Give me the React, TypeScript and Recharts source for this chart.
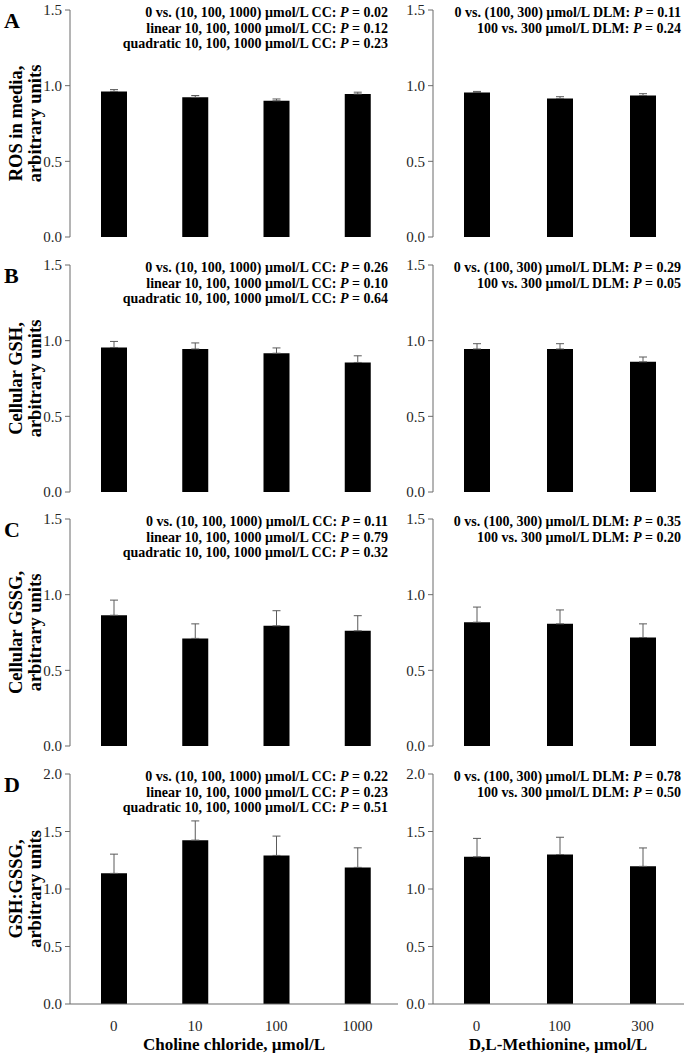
import React from 'react';
import { BarChart, Bar, XAxis, YAxis, ErrorBar } from 'recharts';

const FONT = '"Liberation Serif", "Times New Roman", Times, serif';
const AXIS = '#6b6b6b';
const TICK = '#262626';

// doses
const ccDoses = ['0', '10', '100', '1000'];
const dlmDoses = ['0', '100', '300'];

// A: ROS in media
const rosCC = [0.962, 0.923, 0.9, 0.945];
const rosCCErr = [0.012, 0.012, 0.012, 0.012];
const rosDLM = [0.955, 0.915, 0.935];
const rosDLMErr = [0.007, 0.012, 0.012];

// B: cellular GSH
const gshCC = [0.955, 0.945, 0.917, 0.856];
const gshCCErr = [0.04, 0.04, 0.035, 0.044];
const gshDLM = [0.945, 0.945, 0.86];
const gshDLMErr = [0.035, 0.035, 0.032];

// C: cellular GSSG
const gssgCC = [0.864, 0.711, 0.794, 0.761];
const gssgCCErr = [0.1, 0.096, 0.1, 0.1];
const gssgDLM = [0.818, 0.807, 0.717];
const gssgDLMErr = [0.1, 0.092, 0.09];

// D: GSH:GSSG
const ratioCC = [1.136, 1.425, 1.292, 1.188];
const ratioCCErr = [0.167, 0.167, 0.168, 0.17];
const ratioDLM = [1.28, 1.3, 1.197];
const ratioDLMErr = [0.16, 0.15, 0.16];

// P values
const ccTests = ['0 vs. (10, 100, 1000) µmol/L CC: ', 'linear 10, 100, 1000 µmol/L CC: ', 'quadratic 10, 100, 1000 µmol/L CC: '];
const dlmTests = ['0 vs. (100, 300) µmol/L DLM: ', '100 vs. 300 µmol/L DLM: '];
const rosCCP = ['0.02', '0.12', '0.23'];
const rosDLMP = ['0.11', '0.24'];
const gshCCP = ['0.26', '0.10', '0.64'];
const gshDLMP = ['0.29', '0.05'];
const gssgCCP = ['0.11', '0.79', '0.32'];
const gssgDLMP = ['0.35', '0.20'];
const ratioCCP = ['0.22', '0.23', '0.51'];
const ratioDLMP = ['0.78', '0.50'];

const ticks15 = [0, 0.5, 1, 1.5];
const ticks20 = [0, 0.5, 1, 1.5, 2];

const toRows = (cats: string[], vals: number[], errs: number[]) =>
  cats.map((c, i) => ({ dose: c, value: vals[i], err: [0, errs[i]] }));

const rows = [
  { letter: 'A', label: ['ROS in media,', 'arbitrary units'], top: 10, bottom: 237, ticks: ticks15,
    cc: toRows(ccDoses, rosCC, rosCCErr), dlm: toRows(dlmDoses, rosDLM, rosDLMErr), ccP: rosCCP, dlmP: rosDLMP },
  { letter: 'B', label: ['Cellular GSH,', 'arbitrary units'], top: 265, bottom: 492, ticks: ticks15,
    cc: toRows(ccDoses, gshCC, gshCCErr), dlm: toRows(dlmDoses, gshDLM, gshDLMErr), ccP: gshCCP, dlmP: gshDLMP },
  { letter: 'C', label: ['Cellular GSSG,', 'arbitrary units'], top: 519, bottom: 746, ticks: ticks15,
    cc: toRows(ccDoses, gssgCC, gssgCCErr), dlm: toRows(dlmDoses, gssgDLM, gssgDLMErr), ccP: gssgCCP, dlmP: gssgDLMP },
  { letter: 'D', label: ['GSH:GSSG,', 'arbitrary units'], top: 774, bottom: 1004, ticks: ticks20,
    cc: toRows(ccDoses, ratioCC, ratioCCErr), dlm: toRows(dlmDoses, ratioDLM, ratioDLMErr), ccP: ratioCCP, dlmP: ratioDLMP },
];

interface PanelProps {
  data: any[];
  left: number;
  width: number;
  axisWidth: number;
  marginRight: number;
  padLeft: number;
  top: number;
  bottom: number;
  ticks: number[];
  showX: boolean;
}

function Panel({ data, left, width, axisWidth, marginRight, padLeft, top, bottom, ticks, showX }: PanelProps) {
  const xH = showX ? 32 : 0;
  const height = bottom - top + 10 + (showX ? xH : 10);
  return (
    <div style={{ position: 'absolute', left, top: top - 10, width, height }}>
      <BarChart
        width={width}
        height={height}
        data={data}
        margin={{ top: 10, right: marginRight, bottom: showX ? 0 : 10, left: 0 }}
      >
        <XAxis
          dataKey="dose"
          height={xH}
          tick={showX ? { fontSize: 15, fill: TICK, fontFamily: FONT } : false}
          tickLine={false}
          tickSize={0}
          tickMargin={16}
          axisLine={{ stroke: AXIS }}
          padding={{ left: padLeft, right: 0 }}
        />
        <YAxis
          width={axisWidth}
          domain={[0, ticks[ticks.length - 1]]}
          ticks={ticks}
          allowDataOverflow
          tickFormatter={(v: number) => v.toFixed(1)}
          tick={{ fontSize: 15, fill: TICK, fontFamily: FONT }}
          tickSize={5}
          tickMargin={3}
          axisLine={{ stroke: AXIS }}
          tickLine={{ stroke: AXIS }}
        />
        <Bar dataKey="value" fill="#000" barSize={26} isAnimationActive={false}>
          <ErrorBar dataKey="err" direction="y" width={4} stroke="#5a5a5a" strokeWidth={1} isAnimationActive={false} />
        </Bar>
      </BarChart>
    </div>
  );
}

function PLines({ tests, ps, x, top }: { tests: string[]; ps: string[]; x: number; top: number }) {
  return (
    <>
      {tests.map((t, i) => (
        <text key={i} x={x} y={top + 7 + i * 15.5} textAnchor="end" fontWeight="bold" fontSize={14}>
          {t}
          <tspan fontStyle="italic">P</tspan>
          {' = ' + ps[i]}
        </text>
      ))}
    </>
  );
}

export default function App() {
  return (
    <div style={{ position: 'absolute', left: 0, top: 0, width: 685, height: 1053, background: '#fff', fontFamily: FONT }}>
      {rows.map((r, i) => (
        <React.Fragment key={r.letter}>
          <Panel data={r.cc} left={0} width={405} axisWidth={70} marginRight={7} padLeft={3}
            top={r.top} bottom={r.bottom} ticks={r.ticks} showX={i === rows.length - 1} />
          <Panel data={r.dlm} left={405} width={280} axisWidth={28} marginRight={1} padLeft={2}
            top={r.top} bottom={r.bottom} ticks={r.ticks} showX={i === rows.length - 1} />
        </React.Fragment>
      ))}
      <svg width={685} height={1053} style={{ position: 'absolute', left: 0, top: 0, pointerEvents: 'none' }}
        fontFamily={FONT} fill="#000">
        {rows.map((r) => {
          const cy = (r.top + r.bottom) / 2;
          return (
            <g key={r.letter}>
              <text x={4} y={r.top + 18} fontSize={22} fontWeight="bold">{r.letter}</text>
              <text transform={`translate(16,${cy}) rotate(-90)`} textAnchor="middle" dominantBaseline="central"
                fontSize={18.5} fontWeight="bold">{r.label[0]}</text>
              <text transform={`translate(35,${cy}) rotate(-90)`} textAnchor="middle" dominantBaseline="central"
                fontSize={18.5} fontWeight="bold">{r.label[1]}</text>
              <PLines tests={ccTests} ps={r.ccP} x={388} top={r.top} />
              <PLines tests={dlmTests} ps={r.dlmP} x={681} top={r.top} />
            </g>
          );
        })}
        <text x={234} y={1050} textAnchor="middle" fontSize={17} fontWeight="bold">Choline chloride, µmol/L</text>
        <text x={558} y={1050} textAnchor="middle" fontSize={17} fontWeight="bold">D,L-Methionine, µmol/L</text>
      </svg>
    </div>
  );
}
